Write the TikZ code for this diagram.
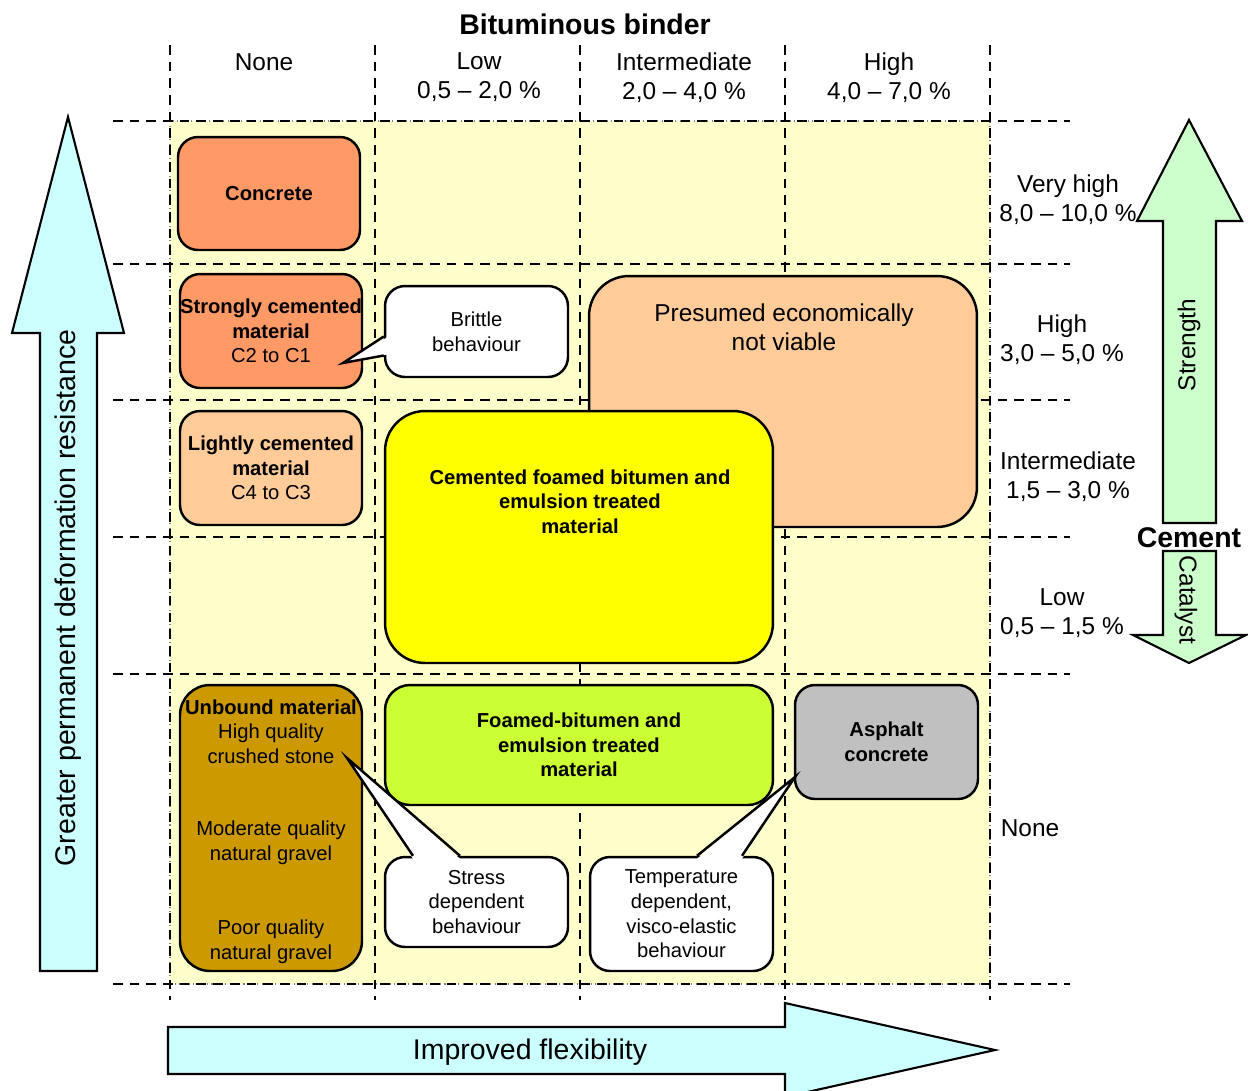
\documentclass[tikz,border=0pt]{standalone}
\usepackage{fontspec}
\setmainfont{Liberation Sans}
\usetikzlibrary{calc}
\definecolor{bgyel}{HTML}{FFFFCC}
\definecolor{salmonc}{HTML}{FF9966}
\definecolor{peachc}{HTML}{FFCC99}
\definecolor{ochrec}{HTML}{CC9900}
\definecolor{limec}{HTML}{CCFF33}
\definecolor{yelc}{HTML}{FFFF00}
\definecolor{asphc}{HTML}{C0C0C0}
\definecolor{cyanarr}{HTML}{CCFFFF}
\definecolor{greenarr}{HTML}{CCFFCC}
\begin{document}
\begin{tikzpicture}[x=0.02cm,y=-0.02cm,
 gline/.style={line width=1.3pt, dash pattern=on 5.5pt off 4pt},
 mbox/.style={draw, line width=1.4pt, rounded corners=0.4cm, inner sep=0pt, align=center, font=\fontsize{11.5}{14}\selectfont},
 wedgeline/.style={line width=1.4pt, line join=miter},
 hdtxt/.style={align=center, font=\fontsize{13.9}{16.5}\selectfont, inner sep=0pt},
 bxtxt/.style={align=center, font=\fontsize{11.5}{14}\selectfont, inner sep=0pt},
 bigtxt/.style={font=\fontsize{16.2}{19}\selectfont, inner sep=0pt},
 barrow/.style={draw, line width=1.2pt, line join=miter}
]
\useasboundingbox (0,0) rectangle (1248,1090);
\clip (0,0) rectangle (1248,1090);

% background
\fill[bgyel] (170,121) rectangle (990,984);
\draw[gray, line width=0.6pt, dotted] (170,121) rectangle (990,984);

% grid lines
\foreach \gx in {170,375,580,785,990}
  \draw[gline] (\gx,45) -- (\gx,1000);
\foreach \gy in {121,264,400,537,674,984}
  \draw[gline] (113,\gy) -- (1070,\gy);

% headers
\node[bigtxt, font=\fontsize{16.2}{19}\selectfont\bfseries] (title) at (585,24) {Bituminous binder};
\node[hdtxt] (cnone) at (264,62) {None};
\node[hdtxt] (clow) at (479,77.5) {Low\\0,5 – 2,0 \%};
\node[hdtxt] (cint) at (684,77.5) {Intermediate\\2,0 – 4,0 \%};
\node[hdtxt] (chigh) at (889,77.5) {High\\4,0 – 7,0 \%};

% row labels
\node[hdtxt] (rvh) at (1068,200) {Very high\\8,0 – 10,0 \%};
\node[hdtxt] (rh) at (1062,339.5) {High\\3,0 – 5,0 \%};
\node[hdtxt] (ri) at (1068,476.5) {Intermediate\\1,5 – 3,0 \%};
\node[hdtxt] (rl) at (1062,613.5) {Low\\0,5 – 1,5 \%};
\node[hdtxt] (rn) at (1030,828) {None};

% block arrows
\draw[barrow, fill=cyanarr] (40,971) -- (40,333) -- (12,333) -- (68,117) -- (124,333) -- (97,333) -- (97,971) -- cycle;
\node[bigtxt, rotate=90] (gpdr) at (68,598) {Greater permanent deformation resistance};
\draw[barrow, fill=greenarr] (1163,523) -- (1163,221) -- (1137,221) -- (1189,120) -- (1242,221) -- (1216,221) -- (1216,523) -- cycle;
\node[hdtxt, rotate=90] (strength) at (1189,345) {Strength};
\draw[barrow, fill=greenarr] (1163,551) -- (1163,635) -- (1133,635) -- (1189,663) -- (1246,635) -- (1216,635) -- (1216,551) -- cycle;
\node[hdtxt, rotate=-90] (catalyst) at (1186,600) {Catalyst};
\node[bigtxt, font=\fontsize{16.2}{19}\selectfont\bfseries] (cement) at (1189,538) {Cement};
\draw[barrow, fill=cyanarr] (168,1027) -- (785,1027) -- (785,1003) -- (995,1050) -- (785,1097) -- (785,1074) -- (168,1074) -- cycle;
\node[bigtxt] (flex) at (530,1052) {Improved flexibility};

% material boxes
\node[mbox, fill=salmonc, minimum width=3.64cm, minimum height=2.26cm] (concrete) at (269,193.5) {\textbf{Concrete}};
\node[mbox, fill=salmonc, minimum width=3.64cm, minimum height=2.28cm] (strong) at (271,331) {\textbf{Strongly cemented}\\\textbf{material}\\C2 to C1};
\node[mbox, fill=peachc, minimum width=3.64cm, minimum height=2.28cm] (light) at (271,468) {\textbf{Lightly cemented}\\\textbf{material}\\C4 to C3};
\node[mbox, fill=ochrec, rounded corners=0.6cm, minimum width=3.64cm, minimum height=5.72cm] (unbound) at (271,828) {};
\node[bxtxt] (ub1) at (271,731.5) {\textbf{Unbound material}\\High quality\\crushed stone};
\node[bxtxt] (ub2) at (271,842.5) {Moderate quality\\natural gravel};
\node[bxtxt] (ub3) at (271,941.5) {Poor quality\\natural gravel};

\node[mbox, fill=peachc, rounded corners=0.8cm, minimum width=7.76cm, minimum height=5.02cm] (presumed) at (783,401.5) {};
\node[hdtxt] (prtxt) at (784,327.5) {Presumed economically\\not viable};
\node[mbox, fill=yelc, rounded corners=0.8cm, minimum width=7.76cm, minimum height=5.04cm] (cfb) at (579,537) {};
\node[bxtxt] (cfbtxt) at (580,501.5) {\textbf{Cemented foamed bitumen and}\\\textbf{emulsion treated}\\\textbf{material}};
\node[mbox, fill=limec, rounded corners=0.5cm, minimum width=7.76cm, minimum height=2.4cm] (fbe) at (579,745) {\textbf{Foamed-bitumen and}\\\textbf{emulsion treated}\\\textbf{material}};
\node[mbox, fill=asphc, minimum width=3.66cm, minimum height=2.28cm] (asphalt) at (886.5,742) {\textbf{Asphalt}\\\textbf{concrete}};

% callouts
\node[mbox, fill=white, minimum width=3.66cm, minimum height=1.82cm] (brittle) at (476.5,331.5) {Brittle\\behaviour};
\coordinate (brittletip) at (343,363);
\fill[white] ($(brittle.west)+(3,6)$) -- (brittletip) -- ($(brittle.west)+(3,23)$) -- cycle;
\draw[wedgeline] ($(brittle.west)+(0,5)$) -- (brittletip) -- ($(brittle.west)+(0,24)$);

\node[mbox, fill=white, minimum width=3.66cm, minimum height=1.8cm] (stress) at (476.5,902) {Stress\\dependent\\behaviour};
\coordinate (stresstip) at (347,758);
\fill[white] ($(stress.north)+(-63.5,3)$) -- (stresstip) -- ($(stress.north)+(-16.5,3)$) -- cycle;
\draw[wedgeline] ($(stress.north)+(-63.5,0)$) -- (stresstip) -- ($(stress.north)+(-16.5,0)$);

\node[mbox, fill=white, minimum width=3.66cm, minimum height=2.28cm] (temp) at (681.5,914) {Temperature\\dependent,\\visco-elastic\\behaviour};
\coordinate (temptip) at (795,777);
\fill[white] ($(temp.north)+(15.5,3)$) -- (temptip) -- ($(temp.north)+(60.5,3)$) -- cycle;
\draw[wedgeline] ($(temp.north)+(15.5,0)$) -- (temptip) -- ($(temp.north)+(60.5,0)$);
\end{tikzpicture}
\end{document}
